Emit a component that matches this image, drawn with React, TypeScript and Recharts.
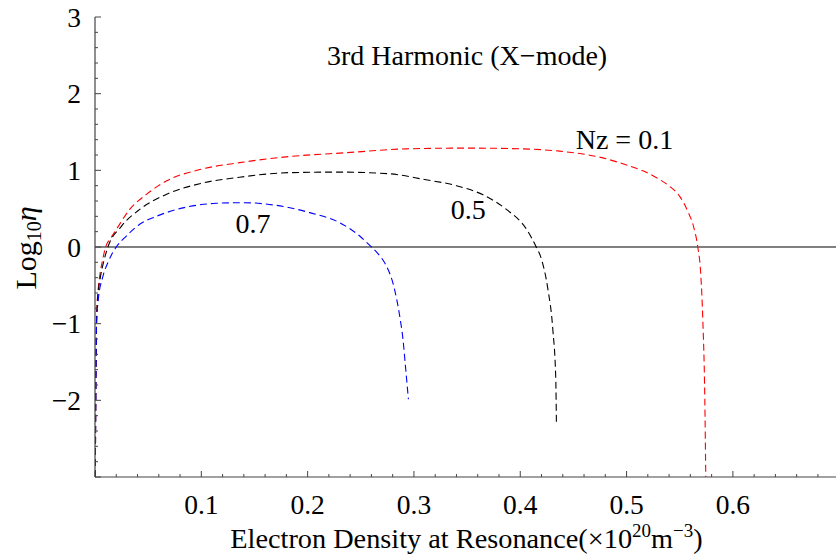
import { LineChart, Line, XAxis, YAxis, ReferenceLine, ReferenceDot, Label } from 'recharts';

const FONT = '"Liberation Serif", "Times New Roman", serif';
const FRAME = '#444';

// Nz = 0.1 (red)
const nz01X = [0.0003, 0.0008, 0.0015, 0.003, 0.0044, 0.007, 0.01, 0.015, 0.0201, 0.0326, 0.0483, 0.067, 0.0985, 0.136, 0.183, 0.2365, 0.293, 0.35, 0.402, 0.437, 0.472, 0.5, 0.516, 0.531, 0.5407, 0.55, 0.5576, 0.5632, 0.567, 0.5698, 0.5717, 0.5736, 0.5745];
const nz01Y = [-3, -1.8, -0.9, -0.55, -0.38, -0.18, 0, 0.12, 0.23, 0.49, 0.686, 0.86, 1.01, 1.1, 1.18, 1.23, 1.28, 1.29, 1.28, 1.25, 1.18, 1.07, 0.99, 0.88, 0.79, 0.66, 0.465, 0.257, 0, -0.356, -0.943, -1.986, -3];

// Nz = 0.5 (black)
const nz05X = [0.0003, 0.0008, 0.0015, 0.003, 0.005, 0.008, 0.0122, 0.0248, 0.042, 0.067, 0.0985, 0.136, 0.183, 0.23, 0.277, 0.31, 0.34, 0.365, 0.387, 0.406, 0.415, 0.42, 0.426, 0.4306, 0.4334, 0.434];
const nz05Y = [-3, -1.8, -0.95, -0.6, -0.4, -0.2, 0, 0.27, 0.49, 0.686, 0.826, 0.91, 0.97, 0.977, 0.955, 0.88, 0.8, 0.68, 0.49, 0.23, 0, -0.16, -0.55, -1.07, -1.72, -2.28];

// Nz = 0.7 (blue)
const nz07X = [0.0003, 0.0008, 0.0015, 0.003, 0.0075, 0.0122, 0.02, 0.0295, 0.042, 0.0577, 0.0828, 0.114, 0.139, 0.1707, 0.202, 0.23, 0.249, 0.26, 0.2659, 0.2716, 0.2764, 0.2803, 0.2838, 0.2871, 0.2897, 0.292, 0.2948];
const nz07Y = [-3, -1.8, -1.0, -0.7, -0.38, -0.2, 0, 0.143, 0.296, 0.4, 0.51, 0.57, 0.578, 0.543, 0.448, 0.318, 0.143, 0, -0.082, -0.186, -0.317, -0.473, -0.682, -0.943, -1.204, -1.552, -1.986];

const xTicks = [0, 0.02, 0.04, 0.06, 0.08, 0.1, 0.12, 0.14, 0.16, 0.18, 0.2, 0.22, 0.24, 0.26, 0.28, 0.3, 0.32, 0.34, 0.36, 0.38, 0.4, 0.42, 0.44, 0.46, 0.48, 0.5, 0.52, 0.54, 0.56, 0.58, 0.6, 0.62, 0.64, 0.66, 0.68];
const xLabelled = [0.1, 0.2, 0.3, 0.4, 0.5, 0.6];
const yTicks = [-3, -2.8, -2.6, -2.4, -2.2, -2, -1.8, -1.6, -1.4, -1.2, -1, -0.8, -0.6, -0.4, -0.2, 0, 0.2, 0.4, 0.6, 0.8, 1, 1.2, 1.4, 1.6, 1.8, 2, 2.2, 2.4, 2.6, 2.8, 3];
const yLabelled = [-2, -1, 0, 1, 2, 3];

// text placed in data coordinates (centre of baseline)
const notes = [
    { text: '3rd Harmonic (X\u2212mode)', x: 0.35, y: 2.38 },
    { text: 'Nz = 0.1', x: 0.498, y: 1.274 },
    { text: '0.5', x: 0.351, y: 0.37 },
    { text: '0.7', x: 0.1486, y: 0.179 },
];

const toPoints = (xs: number[], ys: number[]) => xs.map((x, i) => ({ x, y: ys[i] }));

const has = (list: number[], v: number) => list.some(t => Math.abs(t - v) < 1e-6);
const isInt = (v: number) => Math.abs(v - Math.round(v)) < 1e-6;
const isTenth = (v: number) => Math.abs(v * 10 - Math.round(v * 10)) < 1e-6;
const fmt = (v: number) => (v < 0 ? '\u2212' + Math.abs(v) : String(v));

const BottomTick = (p: any) => {
    const v = p.payload.value;
    return (
        <g>
            <line x1={p.x} y1={p.y} x2={p.x} y2={p.y - (isTenth(v) ? 6 : 3)} stroke={FRAME} />
            {has(xLabelled, v) && (
                <text x={p.x} y={p.y + 37} textAnchor="middle" fontSize={27.5} fontFamily={FONT} fill="#000">{v}</text>
            )}
        </g>
    );
};

const TopTick = (p: any) => {
    const v = p.payload.value;
    return <line x1={p.x} y1={p.y} x2={p.x} y2={p.y + (isTenth(v) ? 6 : 3)} stroke={FRAME} />;
};

const LeftTick = (p: any) => {
    const v = p.payload.value;
    return (
        <g>
            <line x1={p.x} y1={p.y} x2={p.x + (isInt(v) ? 6 : 3)} y2={p.y} stroke={FRAME} />
            {has(yLabelled, v) && (
                <text x={p.x - 14} y={p.y + 9.5} textAnchor="end" fontSize={27.5} fontFamily={FONT} fill="#000">{fmt(v)}</text>
            )}
        </g>
    );
};

const RightTick = (p: any) => {
    const v = p.payload.value;
    return <line x1={p.x} y1={p.y} x2={p.x - (isInt(v) ? 6 : 3)} y2={p.y} stroke={FRAME} />;
};

const noteLabel = (text: string) => (props: any) => {
    const vb = props.viewBox;
    const cx = vb.x + vb.width / 2;
    const cy = vb.y + vb.height / 2;
    return (
        <text x={cx} y={cy} textAnchor="middle" fontSize={28} fontFamily={FONT} fill="#000">{text}</text>
    );
};

const XTitle = (props: any) => {
    const vb = props.viewBox;
    return (
        <text x={vb.x + vb.width / 2 + 1} y={vb.y + 71} textAnchor="middle" fontSize={28.3} fontFamily={FONT} fill="#000">
            Electron Density at Resonance(×10<tspan fontSize={19} dy={-11}>20</tspan>
            <tspan dy={11}>m</tspan><tspan fontSize={19} dy={-11}>{'\u22123'}</tspan><tspan dy={11}>)</tspan>
        </text>
    );
};

const YTitle = () => (
    <text x={36} y={248} transform="rotate(-90, 36, 248)" textAnchor="middle" fontSize={30} fontFamily={FONT} fill="#000">
        Log<tspan fontSize={20} dy={5}>10</tspan><tspan dy={-5} fontStyle="italic">η</tspan>
    </text>
);

export default function App() {
    return (
        <div style={{ position: 'absolute', left: 0, top: 0 }}>
            <LineChart width={838} height={560} margin={{ top: 17, right: 2, left: 0, bottom: 0 }}>
                <XAxis
                    xAxisId="b" type="number" dataKey="x" domain={[0, 0.697]} ticks={xTicks} interval={0}
                    height={83} tickSize={0} tickMargin={0} tick={BottomTick} allowDataOverflow
                    axisLine={{ stroke: FRAME, strokeWidth: 1.2 }}
                >
                    <Label content={XTitle} />
                </XAxis>
                <XAxis
                    xAxisId="t" orientation="top" type="number" domain={[0, 0.697]} ticks={xTicks} interval={0}
                    height={0} tickSize={0} tickMargin={0} tick={TopTick} allowDataOverflow
                    axisLine={{ stroke: FRAME, strokeWidth: 1.2 }}
                />
                <YAxis
                    yAxisId="l" type="number" domain={[-3, 3]} ticks={yTicks} interval={0}
                    width={95} tickSize={0} tickMargin={0} tick={LeftTick} allowDataOverflow
                    axisLine={{ stroke: FRAME, strokeWidth: 1.2 }}
                >
                    <Label content={YTitle} />
                </YAxis>
                <YAxis
                    yAxisId="r" orientation="right" type="number" domain={[-3, 3]} ticks={yTicks} interval={0}
                    width={0} tickSize={0} tickMargin={0} tick={RightTick} allowDataOverflow
                    axisLine={{ stroke: FRAME, strokeWidth: 1.2 }}
                />
                <ReferenceLine xAxisId="b" yAxisId="l" y={0} stroke="#808080" strokeWidth={2} />
                <Line xAxisId="b" yAxisId="l" data={toPoints(nz01X, nz01Y)} dataKey="y" type="monotone"
                    stroke="#ff0000" strokeWidth={1.1} strokeDasharray="7 4" dot={false} isAnimationActive={false} />
                <Line xAxisId="b" yAxisId="l" data={toPoints(nz05X, nz05Y)} dataKey="y" type="monotone"
                    stroke="#000000" strokeWidth={1.1} strokeDasharray="7 4" dot={false} isAnimationActive={false} />
                <Line xAxisId="b" yAxisId="l" data={toPoints(nz07X, nz07Y)} dataKey="y" type="monotone"
                    stroke="#0000ff" strokeWidth={1.1} strokeDasharray="7 4" dot={false} isAnimationActive={false} />
                {notes.map(n => (
                    <ReferenceDot key={n.text} xAxisId="b" yAxisId="l" x={n.x} y={n.y} r={1}
                        fill="none" stroke="none" label={noteLabel(n.text)} />
                ))}
            </LineChart>
        </div>
    );
}
